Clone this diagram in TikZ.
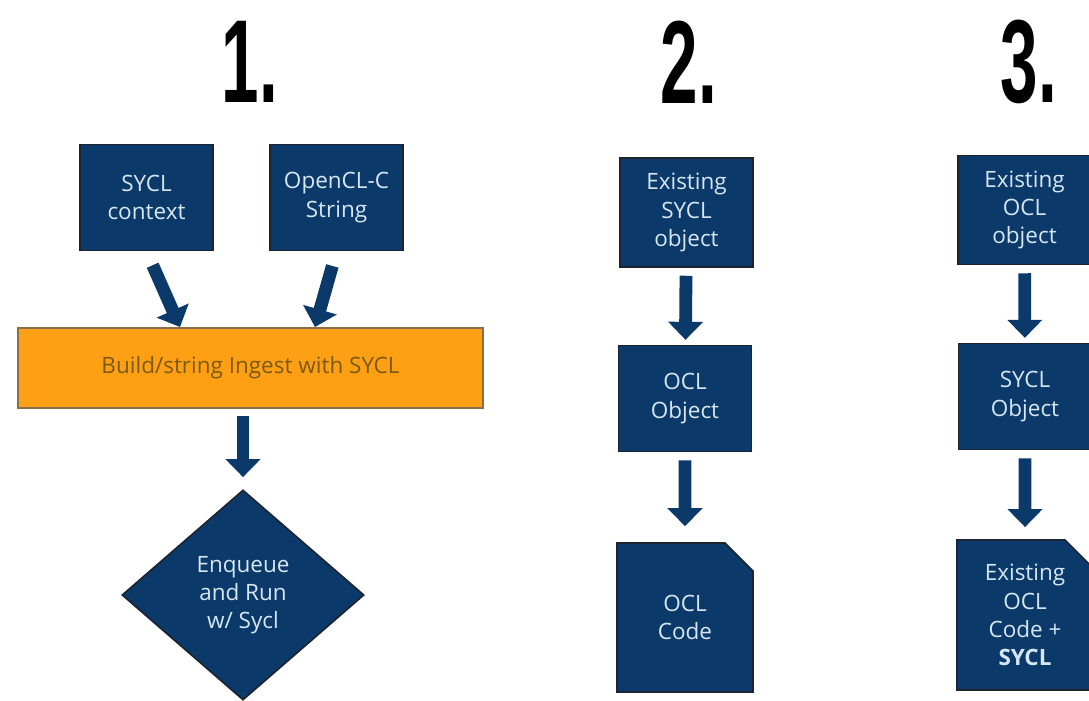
\documentclass[tikz,border=0pt]{standalone}
\usepackage{fontspec}
\setmainfont{Open Sans}
\newfontfamily\titlefont{Liberation Sans}
\usepackage{xcolor}
\usepackage{tikz}
\usetikzlibrary{shapes.geometric, shapes.misc, arrows.meta, positioning, calc}

\definecolor{boxblue}{HTML}{0B3A6A}
\definecolor{boxedge}{HTML}{1B2430}
\definecolor{boxtext}{HTML}{D6E6F2}
\definecolor{barfill}{HTML}{FFA014}
\definecolor{baredge}{HTML}{8A6E48}
\definecolor{bartext}{HTML}{7A5A10}

\begin{document}
\begin{tikzpicture}[x=0.025cm, y=-0.025cm,
        base/.style={
            draw=boxedge, fill=boxblue, text=boxtext, align=center, line width=1.2pt,
            font=\fontsize{16}{20}\selectfont, inner sep=2pt
        },
        blk/.style={base, minimum width=3.33cm, minimum height=2.65cm},
        doc/.style={base, chamfered rectangle, chamfered rectangle corners=north east,
            chamfered rectangle xsep=0.35cm, chamfered rectangle ysep=0.35cm,
            minimum width=3.4cm, minimum height=3.72cm},
        bar/.style={draw=baredge, fill=barfill, text=bartext, line width=1.2pt,
            font=\fontsize{16}{20}\selectfont, minimum width=11.63cm, minimum height=2cm},
        decide/.style={base, diamond, aspect=1.15, inner sep=0pt,
            minimum width=6.05cm, minimum height=5.25cm},
        title/.style={font=\titlefont\bfseries\fontsize{84}{84}\selectfont, inner sep=0pt},
        blockarrow/.style={draw=boxblue, line width=0.32cm,
            -{Triangle[length=0.45cm, width=0.85cm]}}
    ]
        \clip (0,0) rectangle (1089,701);
        \useasboundingbox (0,0) rectangle (1089,701);

        % Titulos
        \node[title] (t1) at (250,62) {\scalebox{0.57}[1]{1.}};
        \node[title] (t2) at (689,62) {\scalebox{0.57}[1]{2.}};
        \node[title] (t3) at (1029,62) {\scalebox{0.57}[1]{3.}};

        % Coluna 1
        \node[blk] (ctx) at (146.5,197.5) {SYCL\\context};
        \node[blk] (ocs) at (336.5,197.5) {OpenCL-C\\String};
        \node[bar] (ingest) at (250.5,368) {Build/string Ingest with SYCL};
        \node[decide] (run) at (243,595) {Enqueue\\and Run\\w/ Sycl};

        \coordinate (in1) at (180,327);
        \coordinate (in2) at (315,327);

        % Coluna 2
        \node[blk, minimum height=2.72cm] (sobj) at (686.5,212.5) {Existing\\SYCL\\object};
        \node[blk] (oobj) at (685,398.5) {OCL\\Object};
        \node[doc] (ocode) at (685,617.5) {OCL\\Code};

        % Coluna 3
        \node[blk, minimum height=2.72cm] (eobj) at (1024.5,210) {Existing\\OCL\\object};
        \node[blk] (syobj) at (1025,396.5) {SYCL\\Object};
        \node[doc, minimum height=3.75cm] (ecode) at (1025,615) {Existing\\OCL\\Code +\\\textbf{SYCL}};

        % Setas
        \draw[blockarrow, shorten <=0.38cm] (ctx.south) -- (in1);
        \draw[blockarrow, shorten <=0.38cm] (ocs.south) -- (in2);
        \draw[blockarrow, shorten <=0.18cm, shorten >=0.3cm] (ingest.south -| run.north) -- (run.north);
        \draw[blockarrow, shorten <=0.2cm, shorten >=0.12cm] (sobj) -- (oobj);
        \draw[blockarrow, shorten <=0.2cm, shorten >=0.4cm] (oobj) -- (ocode);
        \draw[blockarrow, shorten <=0.2cm, shorten >=0.12cm] (eobj) -- (syobj);
        \draw[blockarrow, shorten <=0.2cm, shorten >=0.3cm] (syobj) -- (ecode);

    \end{tikzpicture}
\end{document}
